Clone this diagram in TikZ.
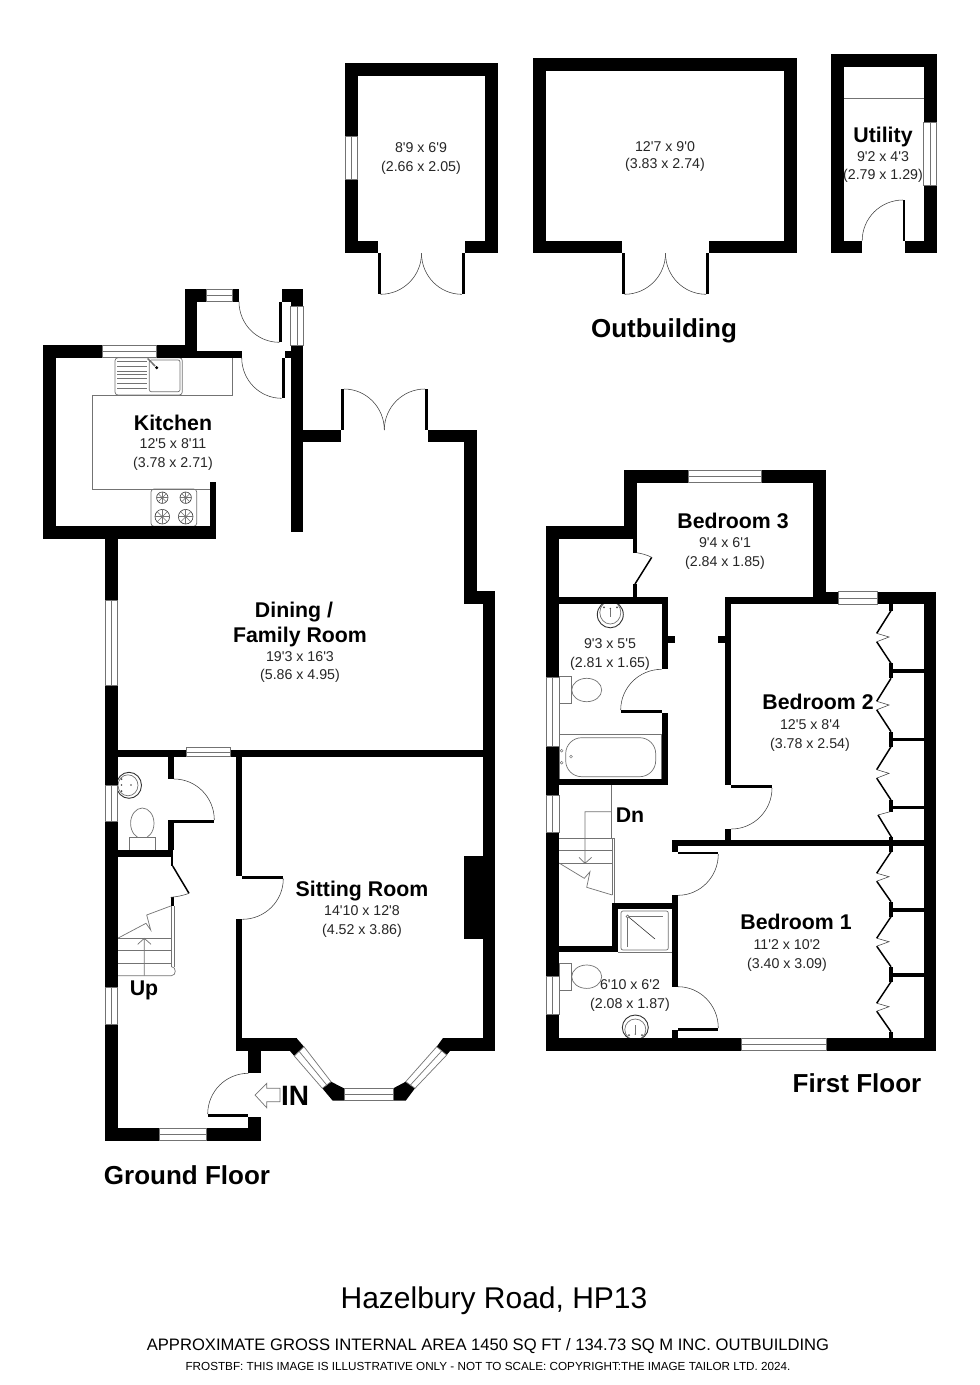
\documentclass[tikz,border=0pt]{standalone}
\usepackage{fontspec}
\newfontfamily\planfont{Liberation Sans}
\tikzset{
  walls/.style={fill=black,draw=none},
  winbox/.style={draw=black!55,fill=white,line width=.7pt},
  winmid/.style={draw=black!55,line width=.7pt},
  doorarc/.style={draw=black!75,line width=.55pt},
  leaf/.style={draw=black,line width=1.5pt},
  fixture/.style={draw=black!55,line width=.7pt},
  fixdark/.style={draw=black!80,line width=.6pt},
  dimtext/.style={font=\planfont\fontsize{14.2}{16}\selectfont,text=black!85,inner sep=0pt,align=center},
  roomtext/.style={font=\planfont\bfseries\fontsize{21.3}{23}\selectfont,text=black,inner sep=0pt},
  floortext/.style={font=\planfont\bfseries\fontsize{26}{28}\selectfont,text=black,inner sep=0pt},
}
\newcommand\wl[4]{\fill[walls] (#1,#2) rectangle (#3,#4);}
% horizontal window
\newcommand\winh[4]{\draw[winbox] (#1,#2) rectangle (#3,#4);\draw[winmid] (#1,{(#2+#4)/2}) -- (#3,{(#2+#4)/2});}
% vertical window
\newcommand\winv[4]{\draw[winbox] (#1,#2) rectangle (#3,#4);\draw[winmid] ({(#1+#3)/2},#2) -- ({(#1+#3)/2},#4);}
% quarter arc: centre, start, end
\newcommand\qarc[6]{%
  \pgfmathsetmacro\qax{#3+.5523*(#5-#1)}\pgfmathsetmacro\qay{#4+.5523*(#6-#2)}%
  \pgfmathsetmacro\qbx{#5+.5523*(#3-#1)}\pgfmathsetmacro\qby{#6+.5523*(#4-#2)}%
  \draw[doorarc] (#3,#4) .. controls (\qax,\qay) and (\qbx,\qby) .. (#5,#6);}
% hob burner
\newcommand\burner[3]{%
  \draw[fixdark] (#1,#2) circle (#3);\draw[fixdark] (#1,#2) circle (1);
  \foreach \a in {0,45,...,315}{\draw[fixture,line width=.5pt] (#1,#2) -- ++(\a:#3pt);}}
% folding wardrobe door
\newcommand\wdr[2]{%
  \pgfmathsetmacro\wa{#1+(#2-#1)*.43}\pgfmathsetmacro\wb{#1+(#2-#1)*.50}\pgfmathsetmacro\wc{#1+(#2-#1)*.59}%
  \draw[leaf] (891,#1) -- (876.7,\wa);\draw[leaf] (876.7,\wc) -- (891,#2);
  \draw[doorarc] (876.7,\wa) -- (889,\wb) -- (876.7,\wc);}
\begin{document}
\begin{tikzpicture}[x=1pt,y=-1pt]
\useasboundingbox (0,0) rectangle (980,1385);
\fill[white] (0,0) rectangle (980,1385);

%%% ---------- fixtures (below the walls) ----------
% kitchen units
\draw[fixture] (232.7,357.7) -- (232.7,395) -- (92.7,395) -- (92.7,489) -- (210,489);
\draw[fixture,rounded corners=3pt] (115,357.7) rectangle (182.3,395);
\draw[fixture,rounded corners=2pt] (149.3,360) rectangle (180,391.7);
\foreach \y in {361,366,371,374.5,378.5,383.5,388.3}{\draw[fixture] (117.3,\y) -- (146.7,\y);}
\draw[fixture,line width=1.5pt] (147.7,358.5) -- (155,366);
\fill[black] (156.7,367.7) circle (1.7);
\draw[fixture,rounded corners=3pt] (151,489) rectangle (196.7,526.3);
\burner{162.3}{497.7}{5.7}
\burner{185.7}{497.7}{5.7}
\burner{162.3}{516.7}{7.3}
\burner{185.7}{516.7}{7.3}
% cloakroom
\draw[fixdark,line width=.9pt] (129,785.3) ellipse [x radius=12.5,y radius=13];
\draw[fixture] (128,785.3) ellipse [x radius=10,y radius=10.5];
\fill[black!70] (121.5,779) circle (1) (121.5,791) circle (1) (131,785) circle (.9) (121.5,785) circle (.9);
\draw[fixture] (142.3,823.3) ellipse [x radius=11.7,y radius=15.3];
\draw[fixture,fill=white] (129.3,837.3) rectangle (155.7,850);
% ground stairs
\foreach \y in {938.3,950.7,963.3}{\draw[fixture] (117.7,\y) -- (171,\y);}
\draw[fixture] (117.7,975.7) -- (171.5,975.7) .. controls (176.5,975.7) and (176.5,966.7) .. (171.5,966.7);
\draw[fixture] (171,906) -- (171,966.7) (174,906) -- (174,966.7);
\draw[fixture] (144.3,975.7) -- (144.3,938.3) (137.7,944.3) -- (144.3,938.3) -- (151,944.3);
\draw[fixture] (117.7,938.3) -- (146,923.3) -- (150.7,930) -- (146.7,915) -- (170.7,906);
% bathroom
\draw[fixture] (559,734.3) rectangle (661.7,779);
\draw[fixture,rounded corners=16pt] (565.7,737.7) rectangle (655.7,776.7);
\draw[fixture,line width=.5pt] (561.7,750.7) circle (1.4) (561.7,762.7) circle (1.4) (571,756.7) circle (1.4);
\draw[fixture] (586.7,690) ellipse [x radius=15,y radius=11.7];
\draw[fixture,fill=white] (559,676.7) rectangle (571.7,703.3);
\draw[fixdark,line width=.9pt] (610.3,614.5) ellipse [x radius=13,y radius=13.3];
\draw[fixture] (610.3,612.5) ellipse [x radius=10.5,y radius=11.5];
\fill[black!70] (604,607.3) circle (1) (617,607.3) circle (1) (610.3,608.5) circle (.8);
\draw[fixture,line width=.5pt] (610.3,608.5) -- (610.3,617);
% first floor stairs
\draw[fixture] (611.3,785) -- (611.3,838.3) (614.3,838.3) -- (614.3,902.7) (612.3,838.3) -- (612.3,895);
\draw[fixture] (559,838.3) -- (614.3,838.3) (559,850.7) -- (612.3,850.7) (559,863.3) -- (612.3,863.3);
\draw[fixture] (611.3,811.7) -- (585,811.7) -- (585,863.3) (579,857.3) -- (585,863.3) -- (591.7,857.3);
\draw[fixture] (558.5,862.7) -- (584.3,878.3) -- (590,871.7) -- (586.7,887.3) -- (612.3,895);
% en suite
\draw[fixture,rounded corners=2pt] (621,911) rectangle (668.3,950);
\draw[fixture] (618,952.3) -- (671.7,952.3);
\draw[fixture,line width=1pt] (627.3,916) -- (627.3,946.7) (627.3,916) -- (663.3,916);
\draw[fixdark] (628.3,916.7) -- (655,939);
\draw[fixture,fill=white] (627.7,916.5) circle (1.5);
\draw[fixture] (586.7,976.7) ellipse [x radius=15,y radius=11.7];
\draw[fixture,fill=white] (559,963.3) rectangle (571.7,990);
\draw[fixdark,line width=.9pt] (635.3,1027.5) ellipse [x radius=13,y radius=12.5];
\draw[fixture] (635.3,1029.5) ellipse [x radius=10.5,y radius=10.5];
\fill[black!70] (629,1035) circle (1) (642,1035) circle (1) (635.3,1034) circle (.8);
\draw[fixture,line width=.5pt] (635.3,1034) -- (635.3,1025);
% utility line
\draw[fixture] (844,98.3) -- (923.7,98.3);

%%% ---------- walls ----------
% shed 1
\wl{344.7}{62.7}{497.6}{75.7}\wl{344.7}{62.7}{357.5}{136.7}\wl{344.7}{179.3}{357.5}{253.3}
\wl{485}{62.7}{497.6}{253.3}\wl{344.7}{240.7}{377.7}{253.3}\wl{464.5}{240.7}{497.6}{253.3}
\wl{377.7}{253.3}{380.5}{294.3}\wl{461.8}{253.3}{464.5}{294.3}
% shed 2
\wl{533.4}{57.7}{797.2}{70.7}\wl{533.4}{57.7}{546.2}{253.3}\wl{784.4}{57.7}{797.2}{253.3}
\wl{533.4}{240.7}{621.7}{253.3}\wl{708.9}{240.7}{797.2}{253.3}
\wl{621.7}{253.3}{624.5}{294.3}\wl{706.1}{253.3}{708.9}{294.3}
% utility
\wl{831}{54.3}{936.5}{67.3}\wl{831}{54.3}{843.9}{253.3}\wl{923.7}{54.3}{936.5}{122.3}\wl{923.7}{185.7}{936.5}{253.3}
\wl{831}{240.7}{862.2}{253.3}\wl{905}{240.7}{936.5}{253.3}\wl{902.8}{200}{905.2}{241}

% kitchen
\wl{42.7}{345}{102.7}{357.7}\wl{156.7}{345}{185}{357.7}\wl{185}{351}{241.7}{357.7}
\wl{42.7}{345}{55.7}{539.3}\wl{42.7}{526.3}{216}{539.3}\wl{210}{482.3}{216}{539.3}
% porch
\wl{185}{289}{196.7}{357.7}\wl{185}{289}{206}{301.7}\wl{232.7}{289}{239}{301.7}
\wl{282.3}{289}{303.3}{301.7}\wl{290.7}{289}{303.3}{306.7}\wl{279.3}{301.7}{282.3}{342.3}
\wl{290.7}{345.7}{303.3}{532.3}\wl{285}{351}{291}{357.7}\wl{281.7}{357.7}{285}{398.3}
% dining
\wl{303.3}{430}{340.7}{442.3}\wl{340.7}{389}{344}{430}\wl{425}{389}{428.3}{430}
\wl{428.3}{430}{476.7}{442.3}\wl{464}{430}{476.7}{604}\wl{464}{591.3}{495.3}{604}
\wl{482.7}{591.3}{495.3}{1050.7}
% left wall
\wl{105}{532}{117.7}{600}\wl{105}{685}{117.7}{785}\wl{105}{821.7}{117.7}{987.3}\wl{105}{1024}{117.7}{1140.7}
% central wall
\wl{117.7}{750}{186}{756.7}\wl{230}{750}{483}{756.7}
% cloakroom
\wl{167.7}{756.7}{174}{779}\wl{174}{820}{214.3}{822.7}\wl{167.7}{820}{174}{850}
\wl{117.7}{850}{173.3}{856.7}\wl{170.7}{856.7}{173.3}{866}\wl{170.7}{897.3}{174}{906}
% sitting room
\wl{236}{750}{242.3}{876}\wl{242.3}{875.7}{283.3}{878.7}\wl{236}{919.3}{242.3}{1044}
\wl{236}{1038.3}{296.7}{1051}\wl{248.3}{1045}{261}{1073.3}
\wl{464}{855.7}{483}{939.3}
\wl{442.7}{1037.7}{495.3}{1050.7}
% hall bottom
\wl{105}{1127.7}{159.3}{1140.7}\wl{206.7}{1127.7}{261}{1140.7}\wl{248.3}{1116.7}{261}{1140.7}
\wl{207.7}{1114}{248.3}{1117.3}
% bay blocks
\fill[walls] (296.7,1038.3) -- (304,1046.7) -- (294.3,1056) -- (290,1051) -- cycle;
\fill[walls] (322.3,1088.3) -- (331,1081.7) -- (344,1088.3) -- (344,1100.7) -- (332.7,1100.7) -- cycle;
\fill[walls] (393.3,1088.3) -- (405.7,1081.7) -- (415,1088.3) -- (405.7,1100.7) -- (393.3,1100.7) -- cycle;
\fill[walls] (442.7,1038.3) -- (436.7,1046.7) -- (446.7,1055) -- (450,1051) -- (460,1038.3) -- cycle;

% first floor outer
\wl{624}{470}{688.3}{482.7}\wl{761.7}{470}{826}{482.7}\wl{624}{470}{636.7}{539.3}
\wl{546}{526}{636.7}{539.3}\wl{546}{526}{559}{677.3}\wl{546}{746}{559}{795}
\wl{546}{832.3}{559}{976.7}\wl{546}{1014.3}{559}{1050.7}
\wl{813.3}{470}{826}{604}\wl{826}{591.7}{838.3}{604.3}\wl{877.7}{591.7}{936.3}{604.3}
\wl{923.7}{591.7}{936.3}{1050.7}
\wl{546}{1038.3}{741}{1050.7}\wl{826}{1038.3}{936.3}{1050.7}
% closet door
\wl{633.3}{539.3}{636.7}{552.7}\wl{633.3}{584}{636.7}{597.3}
% bathroom walls
\wl{559}{597.3}{668}{604.3}\wl{661.7}{597.3}{668}{669.3}\wl{661.7}{712.7}{668}{785}
\wl{559}{779}{668}{785}\wl{668}{636}{675}{642.7}\wl{717.7}{636}{725}{642.7}
\wl{620.7}{710}{661.7}{713.3}
% bedroom 2
\wl{725}{597.3}{813.3}{604.3}\wl{725}{597.3}{731.3}{785}\wl{731.3}{785}{772}{788.3}
\wl{725}{829.3}{731.3}{840}\wl{671.7}{840}{923.7}{846}
% bedroom 1 doors
\wl{671.7}{840}{678}{851.7}\wl{678}{851.7}{718.3}{854.3}\wl{671.7}{895.3}{678}{986.7}
\wl{671.7}{1030}{678}{1038.3}\wl{678}{1027.7}{718.3}{1030.7}
% shower walls
\wl{612}{902.7}{678}{909}\wl{612}{902.7}{618.3}{952.3}\wl{559}{945.7}{618.3}{952.3}
% wardrobes
\foreach \a/\b in {669.3/672.7,737.7/741,806/809.3,908.3/911.7,973.3/976.7}{\wl{890}{\a}{923.7}{\b}}
\foreach \a/\b in {604.3/610.7,663.3/678.3,731.7/746.7,800/811.7,836.7/851.7,901.7/916.7,966.7/981.7,1031.7/1038.3}{\wl{889.3}{\a}{892.7}{\b}}
\wdr{610.7}{663.3}
\wdr{678.3}{731.7}
\wdr{746.7}{800}
\wdr{851.7}{901.7}
\wdr{916.7}{966.7}
\wdr{981.7}{1031.7}
\draw[leaf] (878,815) -- (892,838);
\draw[doorarc] (878,815) -- (890,811.7);

%%% ---------- windows ----------
\winv{345.5}{136.7}{357.5}{179.3}
\winv{923.7}{122.3}{936}{185.7}
\winh{102.7}{345}{156.7}{357.7}
\winh{206}{289}{232.7}{301.7}
\winv{290.7}{306.7}{303.3}{345.7}
\winv{105.5}{600}{117.7}{685}
\winv{105.5}{785}{117.7}{821.7}
\winv{105.5}{987.3}{117.7}{1024}
\winh{186}{747.3}{230}{756.7}
\winh{159.3}{1128}{206.7}{1140.3}
\winh{344}{1088.3}{393.3}{1100.7}
\draw[winbox] (294.3,1056) -- (304,1046.7) -- (331,1081.7) -- (322.3,1088.3) -- cycle;
\draw[winmid] (299.2,1051.4) -- (326.7,1085);
\draw[winbox] (405.7,1081.7) -- (415,1088.3) -- (446.7,1055) -- (436.7,1046.7) -- cycle;
\draw[winmid] (410.4,1085) -- (441.7,1050.9);
\winh{688.3}{470.3}{761.7}{482.7}
\winh{838.3}{591.7}{877.7}{604.3}
\winh{741}{1038.3}{826}{1050.4}
\winv{546.5}{677.3}{559}{746}
\winv{546.5}{795}{559}{832.3}
\winv{546.5}{976.7}{559}{1014.3}

%%% ---------- door leaves and arcs ----------
\qarc{380.5}{253.3}{421.5}{253.3}{380.5}{294.3}
\qarc{461.8}{253.3}{421.5}{253.3}{461.8}{294.3}
\qarc{624.5}{253.3}{665.5}{253.3}{624.5}{294.3}
\qarc{706.1}{253.3}{665.5}{253.3}{706.1}{294.3}
\qarc{903}{240.7}{903}{200}{862.2}{240.7}
\qarc{279.3}{301.7}{239}{301.7}{279.3}{342.3}
\qarc{281.7}{357.7}{241.7}{357.7}{281.7}{398.3}
\qarc{344}{430}{384.3}{430}{344}{389}
\qarc{425}{430}{384.3}{430}{425}{389}
\qarc{174}{820}{174}{779}{214.3}{820}
\qarc{242.3}{878.7}{283.3}{878.7}{242.3}{919.3}
\qarc{248.3}{1114}{248.3}{1073.3}{207.7}{1114}
\qarc{661.7}{710}{661.7}{669.3}{620.7}{710}
\qarc{731.3}{788}{772}{788}{731.3}{829}
\qarc{678}{854}{718.3}{854}{678}{895.3}
\qarc{678}{1028}{678}{986.7}{718.3}{1028}
% folding/hinged leaves
\draw[leaf] (172.7,866) -- (189,893.3);
\draw[doorarc] (189,893.3) .. controls (183,895.5) and (177,896.8) .. (170.7,897.3);
\draw[leaf] (651.7,557.3) -- (635,584);
\draw[doorarc] (636.7,552.7) .. controls (642,553.5) and (647,555) .. (651.7,557.3);

% entrance arrow
\draw[fixture,fill=white] (255,1095) -- (266.7,1083.3) -- (266.7,1088.3) -- (280,1088.3) -- (280,1101.7) -- (266.7,1101.7) -- (266.7,1107.7) -- cycle;

%%% ---------- texts ----------
\node[dimtext] (a1) at (421,147.5) {8'9 x 6'9};
\node[dimtext] (a2) at (421,167.5) {(2.66 x 2.05)};
\node[dimtext] (b1) at (665,146.5) {12'7 x 9'0};
\node[dimtext] (b2) at (665,165) {(3.83 x 2.74)};
\node[roomtext] (u0) at (883,136.5) {Utility};
\node[dimtext] (u1) at (883,157) {9'2 x 4'3};
\node[dimtext] (u2) at (883,176) {(2.79 x 1.29)};
\node[floortext] (ob) at (664,331) {Outbuilding};
\node[roomtext] (k0) at (173,422.5) {Kitchen};
\node[dimtext] (k1) at (173,444) {12'5 x 8'11};
\node[dimtext] (k2) at (173,463.5) {(3.78 x 2.71)};
\node[roomtext] (d0) at (294,612) {Dining /};
\node[roomtext] (d00) at (300,637) {Family Room};
\node[dimtext] (d1) at (300,656.5) {19'3 x 16'3};
\node[dimtext] (d2) at (300,675.5) {(5.86 x 4.95)};
\node[roomtext] (s0) at (362,891) {Sitting Room};
\node[dimtext] (s1) at (362,911) {14'10 x 12'8};
\node[dimtext] (s2) at (362,930.5) {(4.52 x 3.86)};
\node[roomtext] (up) at (144,990) {Up};
\node[font=\planfont\bfseries\fontsize{28}{30}\selectfont,inner sep=0pt] (in) at (295,1096) {IN};
\node[floortext] (gf) at (187,1175) {Ground Floor};
\node[roomtext] (b30) at (733,521) {Bedroom 3};
\node[dimtext] (b31) at (725,543) {9'4 x 6'1};
\node[dimtext] (b32) at (725,562.5) {(2.84 x 1.85)};
\node[roomtext] (b20) at (818,702) {Bedroom 2};
\node[dimtext] (b21) at (810,725) {12'5 x 8'4};
\node[dimtext] (b22) at (810,744.5) {(3.78 x 2.54)};
\node[roomtext] (b10) at (796,922) {Bedroom 1};
\node[dimtext] (b11) at (787,945) {11'2 x 10'2};
\node[dimtext] (b12) at (787,964.5) {(3.40 x 3.09)};
\node[dimtext] (w1) at (610,644) {9'3 x 5'5};
\node[dimtext] (w2) at (610,663.5) {(2.81 x 1.65)};
\node[dimtext] (e1) at (630,985) {6'10 x 6'2};
\node[dimtext] (e2) at (630,1004.5) {(2.08 x 1.87)};
\node[roomtext] (dn) at (630,815) {Dn};
\node[floortext] (ff) at (857,1083) {First Floor};
\node[font=\planfont\fontsize{30}{32}\selectfont,inner sep=0pt] (t1) at (494,1301) {Hazelbury Road, HP13};
\node[font=\planfont\fontsize{16.6}{18}\selectfont,inner sep=0pt] (t2) at (488,1346) {APPROXIMATE GROSS INTERNAL AREA 1450 SQ FT / 134.73 SQ M INC. OUTBUILDING};
\node[font=\planfont\fontsize{11.7}{13}\selectfont,inner sep=0pt] (t3) at (488,1366) {FROSTBF: THIS IMAGE IS ILLUSTRATIVE ONLY - NOT TO SCALE: COPYRIGHT:THE IMAGE TAILOR LTD. 2024.};
\end{tikzpicture}
\end{document}
